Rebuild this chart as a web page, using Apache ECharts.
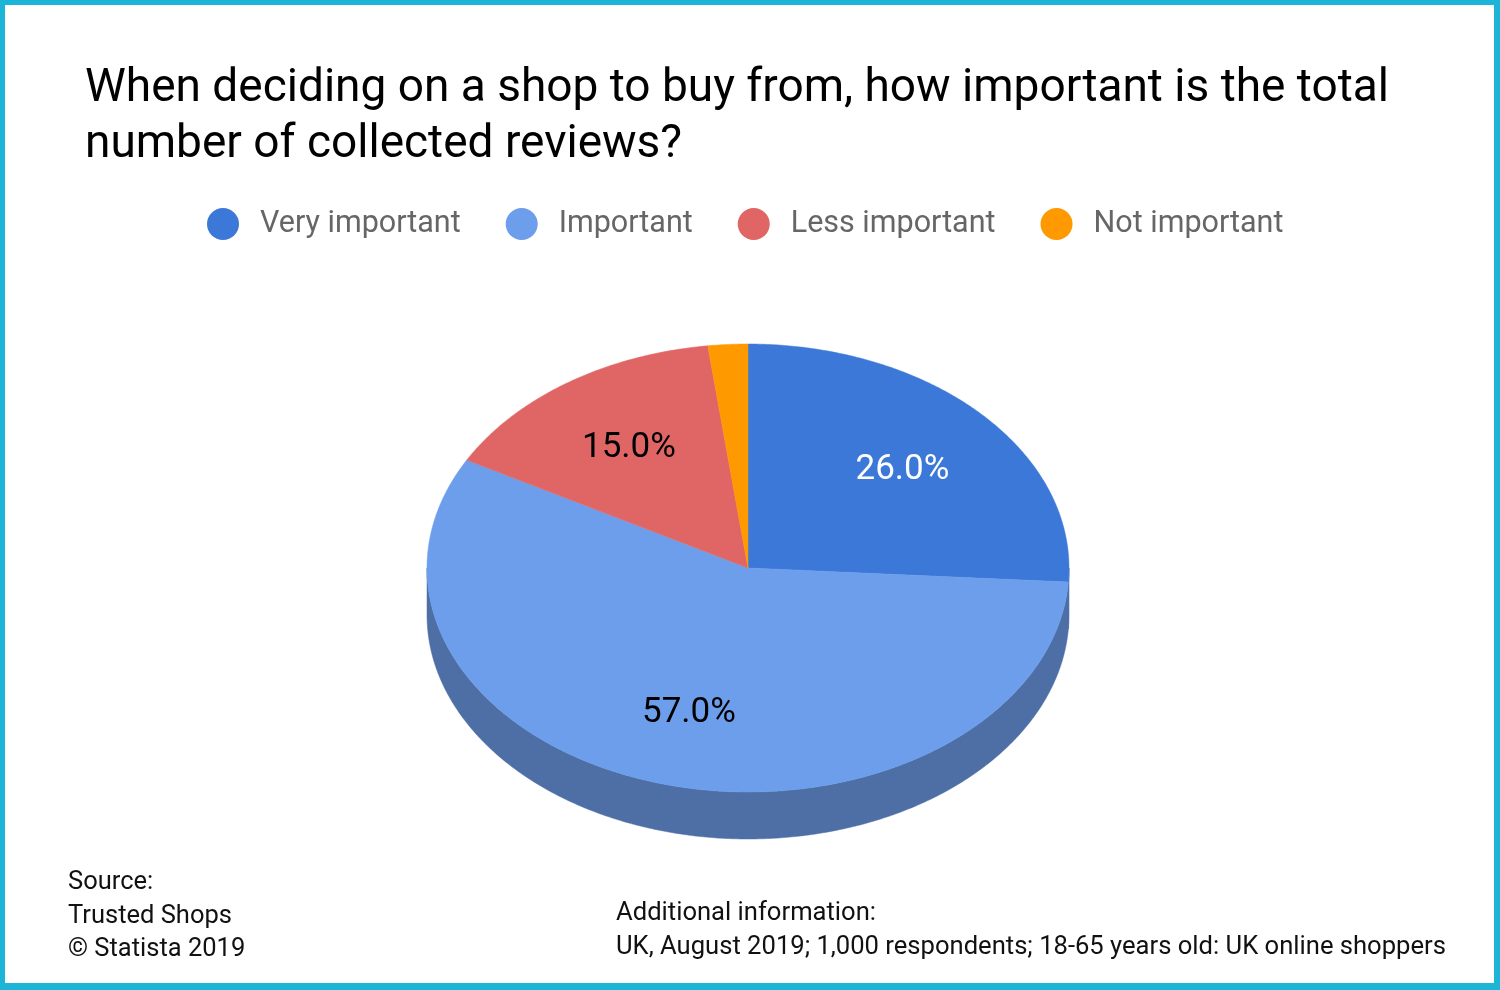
<!DOCTYPE html>
<html>
<head>
<meta charset="utf-8">
<script src="https://cdn.jsdelivr.net/npm/echarts@6/dist/echarts.min.js"></script>
<style>
  html, body { margin: 0; padding: 0; background: #fff; }
  #wrap { position: relative; width: 1500px; height: 990px; }
  #chart { position: absolute; left: 0; top: 0; width: 1500px; height: 990px; }
  #frame { position: absolute; left: 0; top: 0; width: 1500px; height: 990px; box-sizing: border-box;
           border-style: solid; border-color: #1cb5d8; border-width: 5px 6px 7px 5px; pointer-events: none; }
</style>
</head>
<body>
<div id="wrap"><div id="chart"></div><div id="frame"></div></div>
<script>
// ---- data ----
const categories = ['Very important', 'Important', 'Less important', 'Not important'];
const values = [26.0, 57.0, 15.0, 2.0];
const titleLines = ['When deciding on a shop to buy from, how important is the total', 'number of collected reviews?'];
const sourceLines = ['Source:', 'Trusted Shops', '\u00A9 Statista 2019'];
const infoLines = ['Additional information:', 'UK, August 2019; 1,000 respondents; 18-65 years old: UK online shoppers'];

// ---- styles ----
const topColors = ['#3c78d8', '#6d9eeb', '#e06666', '#ff9900'];
const sideColors = ['#2f5ea8', '#4d6fa6', '#a84f4f', '#c27400'];
const labelColors = ['#ffffff', '#000000', '#000000', '#000000'];
const FONT = 'Roboto, "Noto Sans", sans-serif';

// pie geometry (layout only)
const CX = 748, CY = 568, RX = 321, RY = 224, DEPTH = 47, LABEL_R = 0.66, LABEL_DY = 3;

const total = values.reduce((a, b) => a + b, 0);
const starts = [];
{ let acc = 0; for (const v of values) { starts.push(acc / total * Math.PI * 2); acc += v; } }

function pt(theta, dy) {
  return [CX + RX * Math.sin(theta), CY - RY * Math.cos(theta) + (dy || 0)];
}
function arcPoints(a, b, dy) {
  const pts = [];
  const n = Math.max(2, Math.ceil(Math.abs(b - a) / (Math.PI / 360)));
  for (let k = 0; k <= n; k++) pts.push(pt(a + (b - a) * k / n, dy));
  return pts;
}

function makeRenderItem(i) {
  return function (params, api) {
    const v = api.value(0);
    const a = starts[i];
    const b = a + v / total * Math.PI * 2;
    const children = [];
    // side (visible front half: theta in [PI/2, 3PI/2])
    const s = Math.max(a, Math.PI / 2), e = Math.min(b, Math.PI * 1.5);
    if (e > s) {
      const topArc = arcPoints(s, e, 0);
      const botArc = arcPoints(e, s, DEPTH);
      children.push({
        type: 'polygon', z2: 1,
        shape: { points: topArc.concat(botArc) },
        style: { fill: sideColors[i], stroke: sideColors[i], lineWidth: 0.5 }
      });
    }
    // top face
    children.push({
      type: 'polygon', z2: 10,
      shape: { points: [[CX, CY]].concat(arcPoints(a, b, 0)) },
      style: { fill: topColors[i], stroke: topColors[i], lineWidth: 0.5 }
    });
    // label
    if (v / total >= 0.05) {
      const m = (a + b) / 2;
      children.push({
        type: 'text', z2: 20,
        x: CX + RX * LABEL_R * Math.sin(m),
        y: CY - RY * LABEL_R * Math.cos(m) + LABEL_DY,
        style: {
          text: v.toFixed(1) + '%', fill: labelColors[i], font: '35px ' + FONT,
          align: 'center', verticalAlign: 'middle'
        }
      });
    }
    return { type: 'group', children: children };
  };
}

const series = categories.map((name, i) => ({
  type: 'custom',
  name: name,
  coordinateSystem: 'none',
  itemStyle: { color: topColors[i] },
  data: [[values[i]]],
  renderItem: makeRenderItem(i),
  animation: false
}));

const chart = echarts.init(document.getElementById('chart'), null, { renderer: 'canvas' });
chart.setOption({
  animation: false,
  color: topColors,
  title: [
    {
      text: titleLines.join('\n'), left: 85, top: 61, padding: 0,
      textStyle: { fontFamily: FONT, fontSize: 46, fontWeight: 'normal', color: '#000', lineHeight: 56 }
    },
    {
      text: sourceLines.join('\n'), left: 68, top: 866, padding: 0,
      textStyle: { fontFamily: FONT, fontSize: 25.5, fontWeight: 'normal', color: '#111', lineHeight: 33.5 }
    },
    {
      text: infoLines.join('\n'), left: 616, top: 897, padding: 0,
      textStyle: { fontFamily: FONT, fontSize: 25.6, fontWeight: 'normal', color: '#111', lineHeight: 34 }
    }
  ],
  legend: {
    data: categories,
    left: 207, top: 208, padding: 0,
    icon: 'circle', itemWidth: 32, itemHeight: 32, itemGap: 45,
    selectedMode: false,
    textStyle: { fontFamily: FONT, fontSize: 30.5, color: '#666', padding: [0, 0, 0, 16] }
  },
  series: series
});
</script>
</body>
</html>
